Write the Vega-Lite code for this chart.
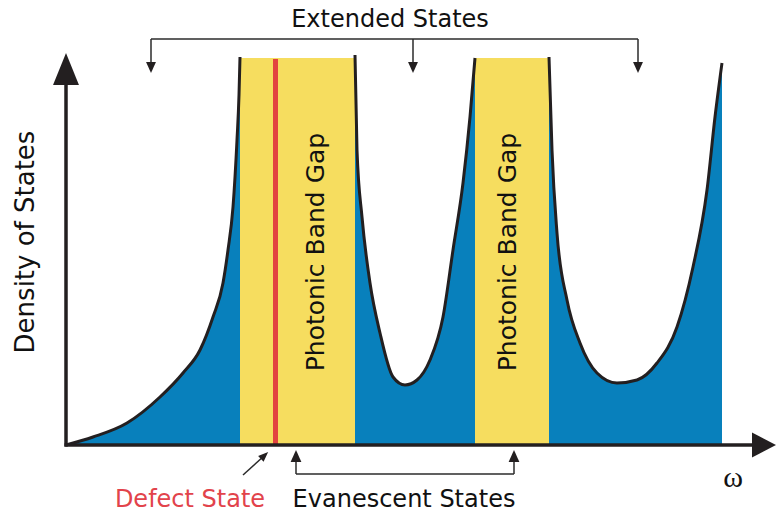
{
  "$schema": "https://vega.github.io/schema/vega-lite/v6.json",
  "width": 776,
  "height": 514,
  "autosize": {"type": "fit", "contains": "padding"},
  "padding": 0,
  "background": "white",
  "config": {"view": {"stroke": null}},
  "datasets": {
    "curve": [
      {"seg": "A", "w": 0, "d": 0},
      {"seg": "A", "w": 27, "d": 8},
      {"seg": "A", "w": 61, "d": 22},
      {"seg": "A", "w": 94, "d": 48},
      {"seg": "A", "w": 117, "d": 72},
      {"seg": "A", "w": 134, "d": 95},
      {"seg": "A", "w": 147, "d": 128},
      {"seg": "A", "w": 157, "d": 162},
      {"seg": "A", "w": 162, "d": 195},
      {"seg": "A", "w": 167, "d": 238},
      {"seg": "A", "w": 171, "d": 305},
      {"seg": "A", "w": 173, "d": 350},
      {"seg": "A", "w": 174, "d": 388},
      {"seg": "B", "w": 289, "d": 390},
      {"seg": "B", "w": 291, "d": 295},
      {"seg": "B", "w": 296, "d": 228},
      {"seg": "B", "w": 304, "d": 162},
      {"seg": "B", "w": 314, "d": 112},
      {"seg": "B", "w": 327, "d": 68},
      {"seg": "B", "w": 339, "d": 60},
      {"seg": "B", "w": 351, "d": 65},
      {"seg": "B", "w": 364, "d": 85},
      {"seg": "B", "w": 377, "d": 128},
      {"seg": "B", "w": 387, "d": 195},
      {"seg": "B", "w": 397, "d": 262},
      {"seg": "B", "w": 404, "d": 328},
      {"seg": "B", "w": 409, "d": 387},
      {"seg": "C", "w": 483, "d": 388},
      {"seg": "C", "w": 486, "d": 295},
      {"seg": "C", "w": 491, "d": 212},
      {"seg": "C", "w": 501, "d": 145},
      {"seg": "C", "w": 514, "d": 102},
      {"seg": "C", "w": 531, "d": 72},
      {"seg": "C", "w": 551, "d": 62},
      {"seg": "C", "w": 571, "d": 65},
      {"seg": "C", "w": 591, "d": 82},
      {"seg": "C", "w": 611, "d": 118},
      {"seg": "C", "w": 627, "d": 178},
      {"seg": "C", "w": 641, "d": 255},
      {"seg": "C", "w": 649, "d": 328},
      {"seg": "C", "w": 656, "d": 382}
    ]
  },
  "layer": [
    {
      "data": {"name": "curve"},
      "mark": {"type": "area", "color": "#0880bc", "interpolate": "monotone"},
      "encoding": {
        "x": {"field": "w", "type": "quantitative", "scale": {"domain": [-66, 710], "nice": false, "zero": false}, "axis": null},
        "y": {"field": "d", "type": "quantitative", "scale": {"domain": [-69, 445], "nice": false, "zero": false}, "axis": null},
        "y2": {"datum": 0},
        "detail": {"field": "seg"}
      }
    },
    {
      "data": {"values": [{"w1": 174, "w2": 289, "top": 387}, {"w1": 409, "w2": 483, "top": 387}]},
      "mark": {"type": "rect", "color": "#f6dd5f"},
      "encoding": {
        "x": {"field": "w1", "type": "quantitative"},
        "x2": {"field": "w2"},
        "y": {"field": "top", "type": "quantitative"},
        "y2": {"datum": 0}
      }
    },
    {
      "data": {"values": [{"w": 209.5, "top": 386}]},
      "mark": {"type": "rule", "color": "#e2433f", "strokeWidth": 5},
      "encoding": {
        "x": {"field": "w", "type": "quantitative"},
        "y": {"field": "top", "type": "quantitative"},
        "y2": {"datum": 0}
      }
    },
    {
      "data": {"name": "curve"},
      "mark": {"type": "line", "color": "#231f20", "strokeWidth": 3, "interpolate": "monotone"},
      "encoding": {
        "x": {"field": "w", "type": "quantitative"},
        "y": {"field": "d", "type": "quantitative"},
        "detail": {"field": "seg"}
      }
    },
    {
      "data": {"values": [
        {"w1": 0, "d1": -1.5, "w2": 0, "d2": 365},
        {"w1": -1.5, "d1": 0, "w2": 690, "d2": 0}
      ]},
      "mark": {"type": "rule", "color": "#231f20", "strokeWidth": 3.5},
      "encoding": {
        "x": {"field": "w1", "type": "quantitative"},
        "y": {"field": "d1", "type": "quantitative"},
        "x2": {"field": "w2"},
        "y2": {"field": "d2"}
      }
    },
    {
      "data": {"values": [{"w": 0, "d": 376}]},
      "mark": {"type": "point", "filled": true, "color": "#231f20", "opacity": 1, "size": 1024, "shape": "M0,-1L-0.81,1L0.81,1Z", "strokeWidth": 0},
      "encoding": {
        "x": {"field": "w", "type": "quantitative"},
        "y": {"field": "d", "type": "quantitative"}
      }
    },
    {
      "data": {"values": [{"w": 698, "d": 0}]},
      "mark": {"type": "point", "filled": true, "color": "#231f20", "opacity": 1, "size": 625, "shape": "M-0.96,-1L0.96,0L-0.96,1Z", "strokeWidth": 0},
      "encoding": {
        "x": {"field": "w", "type": "quantitative"},
        "y": {"field": "d", "type": "quantitative"}
      }
    },
    {
      "data": {"values": [
        {"w1": 85, "d1": 406, "w2": 572, "d2": 406},
        {"w1": 85, "d1": 406, "w2": 85, "d2": 382},
        {"w1": 347, "d1": 406, "w2": 347, "d2": 382},
        {"w1": 572, "d1": 406, "w2": 572, "d2": 382},
        {"w1": 230, "d1": -29, "w2": 448, "d2": -29},
        {"w1": 230, "d1": -29, "w2": 230, "d2": -16},
        {"w1": 448, "d1": -29, "w2": 448, "d2": -16},
        {"w1": 177, "d1": -30, "w2": 198, "d2": -11}
      ]},
      "mark": {"type": "rule", "color": "#2b2b2b", "strokeWidth": 1.5},
      "encoding": {
        "x": {"field": "w1", "type": "quantitative"},
        "y": {"field": "d1", "type": "quantitative"},
        "x2": {"field": "w2"},
        "y2": {"field": "d2"}
      }
    },
    {
      "data": {"values": [{"w": 85, "d": 377.5}, {"w": 347, "d": 377.5}, {"w": 572, "d": 377.5}]},
      "mark": {"type": "point", "filled": true, "color": "#231f20", "opacity": 1, "size": 121, "shape": "M-0.9,-1L0,1L0.9,-1Z", "strokeWidth": 0},
      "encoding": {
        "x": {"field": "w", "type": "quantitative"},
        "y": {"field": "d", "type": "quantitative"}
      }
    },
    {
      "data": {"values": [{"w": 230, "d": -11}, {"w": 448, "d": -11}]},
      "mark": {"type": "point", "filled": true, "color": "#231f20", "opacity": 1, "size": 144, "shape": "M0,-1L-0.9,1L0.9,1Z", "strokeWidth": 0},
      "encoding": {
        "x": {"field": "w", "type": "quantitative"},
        "y": {"field": "d", "type": "quantitative"}
      }
    },
    {
      "data": {"values": [{"w": 198.5, "d": -10.5}]},
      "mark": {"type": "point", "filled": true, "color": "#231f20", "opacity": 1, "size": 100, "angle": 47, "shape": "M0,-1L-0.8,1L0.8,1Z", "strokeWidth": 0},
      "encoding": {
        "x": {"field": "w", "type": "quantitative"},
        "y": {"field": "d", "type": "quantitative"}
      }
    },
    {
      "data": {"values": [
        {"label": "Extended States", "w": 324, "d": 425},
        {"label": "Evanescent States", "w": 338, "d": -55}
      ]},
      "mark": {"type": "text", "font": "DejaVu Sans", "fontSize": 24, "color": "#111111", "align": "center", "baseline": "middle"},
      "encoding": {
        "x": {"field": "w", "type": "quantitative"},
        "y": {"field": "d", "type": "quantitative"},
        "text": {"field": "label"}
      }
    },
    {
      "data": {"values": [{"label": "Defect State", "w": 124, "d": -55}]},
      "mark": {"type": "text", "font": "DejaVu Sans", "fontSize": 24, "color": "#e2434b", "align": "center", "baseline": "middle"},
      "encoding": {
        "x": {"field": "w", "type": "quantitative"},
        "y": {"field": "d", "type": "quantitative"},
        "text": {"field": "label"}
      }
    },
    {
      "data": {"values": [{"label": "Density of States", "w": -40, "d": 203}]},
      "mark": {"type": "text", "font": "DejaVu Sans", "fontSize": 26, "angle": 270, "color": "#111111", "align": "center", "baseline": "middle"},
      "encoding": {
        "x": {"field": "w", "type": "quantitative"},
        "y": {"field": "d", "type": "quantitative"},
        "text": {"field": "label"}
      }
    },
    {
      "data": {"values": [
        {"label": "Photonic Band Gap", "w": 250, "d": 193},
        {"label": "Photonic Band Gap", "w": 442, "d": 193}
      ]},
      "mark": {"type": "text", "font": "DejaVu Sans", "fontSize": 25, "angle": 270, "color": "#111111", "align": "center", "baseline": "middle"},
      "encoding": {
        "x": {"field": "w", "type": "quantitative"},
        "y": {"field": "d", "type": "quantitative"},
        "text": {"field": "label"}
      }
    },
    {
      "data": {"values": [{"label": "ω", "w": 667, "d": -33}]},
      "mark": {"type": "text", "font": "Liberation Serif", "fontSize": 30, "color": "#111111", "align": "center", "baseline": "middle"},
      "encoding": {
        "x": {"field": "w", "type": "quantitative"},
        "y": {"field": "d", "type": "quantitative"},
        "text": {"field": "label"}
      }
    }
  ]
}
